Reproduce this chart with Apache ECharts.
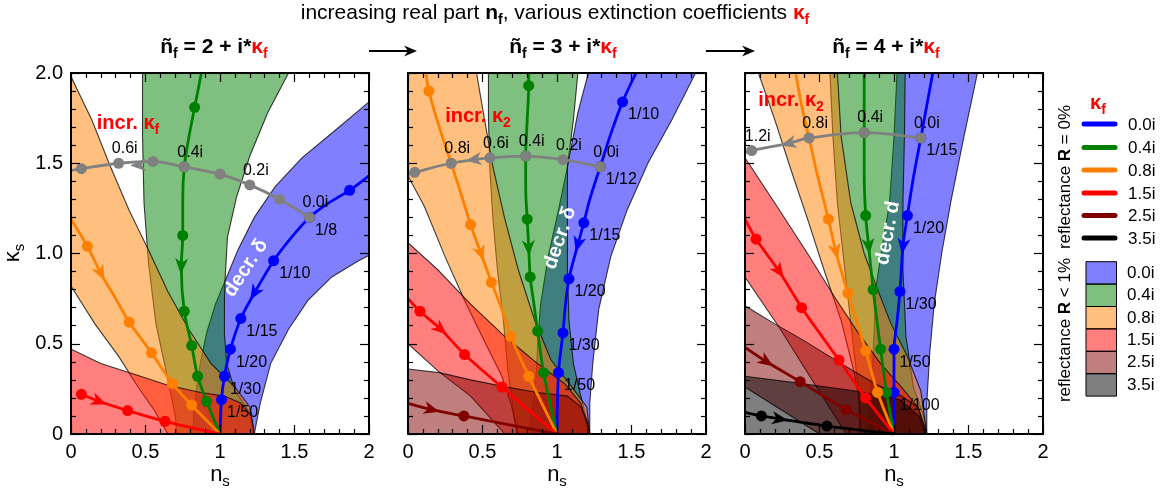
<!DOCTYPE html>
<html><head><meta charset="utf-8">
<script src="https://cdn.jsdelivr.net/npm/echarts/dist/echarts.min.js"></script>
<style>html,body{margin:0;padding:0;background:#fff}#c{width:1171px;height:496px}</style>
</head><body><div id="c"></div>
<script>
// ================= DATA =================
const nfValues = [2, 3, 4];
const kappaLabels = ['0.0i', '0.4i', '0.8i', '1.5i', '2.5i', '3.5i'];
const xTickLabels = ['0', '0.5', '1', '1.5', '2'];
const yTickLabels = ['0', '0.5', '1.0', '1.5', '2.0'];

// ---- panel n_f = 2 ----
const nf2_band_k0 = [[2.0,1.84],[1.77,1.68],[1.55,1.53],[1.37,1.37],[1.23,1.20],[1.12,1.02],[1.04,0.86],[0.97,0.72],[0.91,0.56],[0.87,0.40],[0.845,0.27],[0.825,0.12],[0.818,0],[1.23,0],[1.27,0.17],[1.34,0.39],[1.46,0.58],[1.59,0.74],[1.75,0.87],[1.93,0.96],[2.0,0.99]];
const nf2_band_k1 = [[0.48,2.0],[0.48,1.65],[0.49,1.28],[0.52,0.95],[0.57,0.61],[0.63,0.38],[0.67,0.22],[0.70,0.10],[0.71,0],[1.22,0],[1.20,0.12],[1.10,0.24],[1.045,0.39],[1.03,0.55],[1.03,0.75],[1.035,0.87],[1.05,1.09],[1.11,1.31],[1.20,1.54],[1.32,1.78],[1.46,2.0]];
const nf2_band_k2 = [[0,1.98],[0.14,1.74],[0.26,1.49],[0.39,1.24],[0.52,1.02],[0.65,0.79],[0.79,0.58],[0.94,0.39],[1.10,0.26],[1.20,0.15],[1.23,0],[0.65,0],[0.56,0.13],[0.45,0.26],[0.32,0.43],[0.16,0.61],[0,0.82]];
const nf2_band_k3 = [[0,0],[0,0.47],[0.20,0.39],[0.43,0.33],[0.65,0.27],[0.87,0.23],[1.03,0.21],[1.14,0.17],[1.21,0.10],[1.23,0]];
const nf2_line_k0 = [[2.0,1.43],[1.87,1.35],[1.73,1.28],[1.60,1.20],[1.47,1.08],[1.36,0.96],[1.23,0.78],[1.14,0.64],[1.07,0.47],[1.03,0.32],[1.01,0.19],[1.0,0]];
const nf2_line_k1 = [[0.875,2.0],[0.83,1.81],[0.79,1.64],[0.76,1.48],[0.75,1.30],[0.75,1.10],[0.74,0.93],[0.76,0.68],[0.81,0.49],[0.85,0.32],[0.91,0.18],[1.0,0]];
const nf2_line_k2 = [[0.0,1.19],[0.11,1.04],[0.20,0.89],[0.30,0.75],[0.39,0.62],[0.54,0.45],[0.68,0.28],[0.81,0.16],[1.0,0]];
const nf2_line_k3 = [[0.07,0.22],[0.19,0.18],[0.38,0.13],[0.63,0.07],[1.0,0]];
const nf2_marks_k0 = [[1.87,1.35],[1.60,1.20],[1.36,0.96],[1.14,0.64],[1.07,0.47],[1.03,0.32],[1.01,0.19]];
const nf2_marks_k1 = [[0.83,1.81],[0.76,1.48],[0.75,1.10],[0.76,0.68],[0.81,0.49],[0.85,0.32],[0.91,0.18]];
const nf2_marks_k2 = [[0.11,1.04],[0.39,0.62],[0.54,0.45],[0.68,0.28],[0.81,0.16]];
const nf2_marks_k3 = [[0.07,0.22],[0.38,0.13],[0.63,0.07]];
const nf2_deltaLabels = ['', '1/8', '1/10', '1/15', '1/20', '1/30', '1/50'];
const nf2_arrows = [[1.23,0.78],[0.74,0.93],[0.20,0.89],[0.19,0.18]];
const nf2_gray = [[1.60,1.20],[1.40,1.30],[1.20,1.38],[1.00,1.44],[0.76,1.48],[0.55,1.51],[0.32,1.50],[0.07,1.47],[0.0,1.46]];
const nf2_grayMarks = [[1.60,1.20],[1.40,1.30],[1.20,1.38],[1.00,1.44],[0.76,1.48],[0.55,1.51],[0.32,1.50],[0.07,1.47]];
const nf2_grayLabels = ['0.0i', '', '0.2i', '', '0.4i', '', '0.6i', ''];
const nf2_grayArrow = [0.45,1.49];

// ---- panel n_f = 3 ----
const nf3_band_k0 = [[1.21,2.0],[1.14,1.78],[1.07,1.48],[1.01,1.24],[0.94,0.98],[0.89,0.72],[0.87,0.50],[0.86,0.32],[0.84,0.18],[0.82,0.08],[0.818,0],[1.22,0],[1.22,0.17],[1.24,0.39],[1.28,0.69],[1.36,0.98],[1.47,1.24],[1.61,1.50],[1.77,1.74],[1.93,2.0]];
const nf3_band_k1 = [[0.54,2.0],[0.54,1.74],[0.55,1.46],[0.57,1.19],[0.60,0.91],[0.64,0.63],[0.67,0.35],[0.70,0.17],[0.73,0],[1.22,0],[1.16,0.21],[1.11,0.39],[1.08,0.63],[1.07,0.91],[1.07,1.19],[1.07,1.48],[1.11,1.74],[1.14,2.0]];
const nf3_band_k2 = [[0,2.0],[0.46,2.0],[0.51,1.76],[0.57,1.48],[0.65,1.19],[0.74,0.91],[0.85,0.63],[0.96,0.41],[1.10,0.26],[1.20,0.15],[1.22,0],[0.74,0],[0.69,0.17],[0.63,0.32],[0.51,0.52],[0.38,0.74],[0.25,0.98],[0.11,1.26],[0,1.43]];
const nf3_band_k3 = [[0,1.06],[0.20,0.91],[0.42,0.72],[0.65,0.54],[0.87,0.39],[1.05,0.28],[1.16,0.17],[1.22,0],[0.65,0],[0.42,0.21],[0.20,0.35],[0,0.50]];
const nf3_band_k4 = [[0,0],[0,0.36],[0.21,0.34],[0.42,0.30],[0.66,0.26],[0.87,0.23],[1.07,0.21],[1.16,0.15],[1.20,0.08],[1.22,0]];
const nf3_line_k0 = [[1.53,2.0],[1.44,1.84],[1.36,1.66],[1.29,1.48],[1.22,1.30],[1.18,1.17],[1.14,1.05],[1.08,0.86],[1.055,0.70],[1.04,0.56],[1.01,0.34],[1.0,0]];
const nf3_line_k1 = [[0.81,2.0],[0.81,1.93],[0.80,1.74],[0.79,1.54],[0.79,1.36],[0.80,1.19],[0.81,1.04],[0.82,0.87],[0.845,0.72],[0.87,0.57],[0.91,0.34],[1.0,0]];
const nf3_line_k2 = [[0.12,2.0],[0.14,1.90],[0.21,1.70],[0.29,1.50],[0.36,1.32],[0.42,1.16],[0.49,1.00],[0.56,0.84],[0.63,0.69],[0.69,0.54],[0.81,0.32],[1.0,0]];
const nf3_line_k3 = [[0.0,0.75],[0.08,0.68],[0.22,0.58],[0.38,0.44],[0.63,0.26],[1.0,0]];
const nf3_line_k4 = [[0.0,0.17],[0.16,0.135],[0.375,0.10],[1.0,0]];
const nf3_marks_k0 = [[1.44,1.84],[1.29,1.48],[1.18,1.17],[1.08,0.86],[1.04,0.56],[1.01,0.34]];
const nf3_marks_k1 = [[0.81,1.93],[0.79,1.54],[0.80,1.19],[0.82,0.87],[0.87,0.57],[0.91,0.34]];
const nf3_marks_k2 = [[0.14,1.90],[0.29,1.50],[0.42,1.16],[0.56,0.84],[0.69,0.54],[0.81,0.32]];
const nf3_marks_k3 = [[0.08,0.68],[0.38,0.44],[0.63,0.26]];
const nf3_marks_k4 = [[0.375,0.10]];
const nf3_deltaLabels = ['1/10', '1/12', '1/15', '1/20', '1/30', '1/50'];
const nf3_arrows = [[1.14,1.05],[0.81,1.03],[0.49,1.0],[0.22,0.58],[0.16,0.135]];
const nf3_gray = [[1.29,1.48],[1.04,1.52],[0.79,1.54],[0.55,1.53],[0.29,1.50],[0.045,1.45],[0.0,1.44]];
const nf3_grayMarks = [[1.29,1.48],[1.04,1.52],[0.79,1.54],[0.55,1.53],[0.29,1.50],[0.045,1.45]];
const nf3_grayLabels = ['0.0i', '0.2i', '0.4i', '0.6i', '0.8i', ''];
const nf3_grayArrow = [0.44,1.52];

// ---- panel n_f = 4 ----
const nf4_band_k0 = [[1.02,2.0],[1.00,1.65],[0.97,1.28],[0.91,0.98],[0.88,0.82],[0.87,0.63],[0.86,0.45],[0.85,0.30],[0.83,0.12],[0.818,0],[1.22,0],[1.22,0.17],[1.24,0.45],[1.27,0.72],[1.32,1.0],[1.38,1.28],[1.47,1.65],[1.56,2.0]];
const nf4_band_k1 = [[0.57,2.0],[0.59,1.65],[0.62,1.28],[0.67,0.91],[0.72,0.54],[0.76,0.26],[0.77,0],[1.22,0],[1.20,0.10],[1.13,0.26],[1.08,0.54],[1.06,0.91],[1.06,1.28],[1.07,1.65],[1.075,2.0]];
const nf4_band_k2 = [[0.09,2.0],[0.62,2.0],[0.645,1.65],[0.71,1.28],[0.80,1.0],[0.89,0.80],[0.98,0.61],[1.09,0.43],[1.18,0.24],[1.22,0],[0.78,0],[0.77,0.17],[0.73,0.35],[0.645,0.63],[0.53,0.91],[0.42,1.19],[0.31,1.46],[0.20,1.74]];
const nf4_band_k3 = [[0,1.53],[0.20,1.28],[0.42,1.0],[0.60,0.76],[0.76,0.56],[0.91,0.39],[1.05,0.26],[1.16,0.15],[1.22,0],[0.68,0],[0.45,0.30],[0.23,0.59],[0,0.87]];
const nf4_band_k4 = [[0,0.71],[0.20,0.61],[0.39,0.52],[0.645,0.39],[0.87,0.28],[1.05,0.21],[1.16,0.15],[1.22,0],[0.50,0],[0.25,0.13],[0,0.26]];
const nf4_band_k5 = [[0,0],[0,0.32],[0.28,0.29],[0.73,0.24],[1.04,0.19],[1.17,0.10],[1.21,0]];
const nf4_line_k0 = [[1.26,2.0],[1.22,1.82],[1.18,1.64],[1.13,1.42],[1.09,1.21],[1.06,1.04],[1.04,0.79],[1.02,0.62],[1.00,0.47],[1.00,0.23],[1.0,0]];
const nf4_line_k1 = [[0.80,2.0],[0.80,1.67],[0.80,1.44],[0.81,1.21],[0.83,1.04],[0.86,0.80],[0.885,0.63],[0.91,0.47],[0.95,0.23],[1.0,0]];
const nf4_line_k2 = [[0.34,2.0],[0.38,1.82],[0.43,1.64],[0.49,1.42],[0.56,1.19],[0.61,1.01],[0.69,0.78],[0.75,0.62],[0.81,0.46],[0.89,0.23],[1.0,0]];
const nf4_line_k3 = [[0.0,1.19],[0.074,1.08],[0.23,0.90],[0.38,0.70],[0.50,0.56],[0.63,0.41],[0.81,0.20],[1.0,0]];
const nf4_line_k4 = [[0.0,0.48],[0.145,0.40],[0.37,0.29],[0.68,0.135],[1.0,0]];
const nf4_line_k5 = [[0.0,0.12],[0.11,0.10],[0.235,0.083],[0.55,0.044],[1.0,0]];
const nf4_marks_k0 = [[1.18,1.64],[1.09,1.21],[1.04,0.79],[1.00,0.47],[1.00,0.23]];
const nf4_marks_k1 = [[0.80,1.67],[0.81,1.21],[0.86,0.80],[0.91,0.47],[0.95,0.23]];
const nf4_marks_k2 = [[0.43,1.64],[0.56,1.19],[0.69,0.78],[0.81,0.46],[0.89,0.23]];
const nf4_marks_k3 = [[0.074,1.08],[0.38,0.70],[0.63,0.41],[0.81,0.20]];
const nf4_marks_k4 = [[0.37,0.29],[0.68,0.135]];
const nf4_marks_k5 = [[0.11,0.10],[0.55,0.044]];
const nf4_deltaLabels = ['1/15', '1/20', '1/30', '1/50', '1/100'];
const nf4_arrows = [[1.06,1.04],[0.83,1.04],[0.61,1.01],[0.23,0.90],[0.145,0.40],[0.235,0.083]];
const nf4_gray = [[1.18,1.64],[0.80,1.67],[0.43,1.64],[0.29,1.61],[0.045,1.57],[0.0,1.56]];
const nf4_grayMarks = [[1.18,1.64],[0.80,1.67],[0.43,1.64],[0.045,1.57]];
const nf4_grayLabels = ['0.0i', '0.4i', '0.8i', '1.2i'];
const nf4_grayArrow = [0.29,1.61];

// ================= ASSEMBLY =================
const panels = [
  { bands:[nf2_band_k0,nf2_band_k1,nf2_band_k2,nf2_band_k3], lines:[nf2_line_k0,nf2_line_k1,nf2_line_k2,nf2_line_k3],
    marks:[nf2_marks_k0,nf2_marks_k1,nf2_marks_k2,nf2_marks_k3], arrows:nf2_arrows, deltaLabels:nf2_deltaLabels,
    gray:nf2_gray, grayMarks:nf2_grayMarks, grayLabels:nf2_grayLabels, grayArrow:nf2_grayArrow },
  { bands:[nf3_band_k0,nf3_band_k1,nf3_band_k2,nf3_band_k3,nf3_band_k4], lines:[nf3_line_k0,nf3_line_k1,nf3_line_k2,nf3_line_k3,nf3_line_k4],
    marks:[nf3_marks_k0,nf3_marks_k1,nf3_marks_k2,nf3_marks_k3,nf3_marks_k4], arrows:nf3_arrows, deltaLabels:nf3_deltaLabels,
    gray:nf3_gray, grayMarks:nf3_grayMarks, grayLabels:nf3_grayLabels, grayArrow:nf3_grayArrow },
  { bands:[nf4_band_k0,nf4_band_k1,nf4_band_k2,nf4_band_k3,nf4_band_k4,nf4_band_k5], lines:[nf4_line_k0,nf4_line_k1,nf4_line_k2,nf4_line_k3,nf4_line_k4,nf4_line_k5],
    marks:[nf4_marks_k0,nf4_marks_k1,nf4_marks_k2,nf4_marks_k3,nf4_marks_k4,nf4_marks_k5], arrows:nf4_arrows, deltaLabels:nf4_deltaLabels,
    gray:nf4_gray, grayMarks:nf4_grayMarks, grayLabels:nf4_grayLabels, grayArrow:nf4_grayArrow }
];

const FONT = "'Liberation Sans', Arial, Helvetica, sans-serif";
const lineColors = ['#0000ff', '#008000', '#ff8000', '#ff0000', '#800000', '#000000'];
const bandColors = ['rgba(0,0,255,0.5)', 'rgba(0,128,0,0.5)', 'rgba(255,128,0,0.5)', 'rgba(255,0,0,0.5)', 'rgba(128,0,0,0.5)', 'rgba(0,0,0,0.5)'];
const GRAY = '#808080';
const gridLeft = [71, 408, 745];

function segDist(c, a, b) {
  const dx = b[0]-a[0], dy = b[1]-a[1];
  const L = dx*dx + dy*dy || 1;
  let t = ((c[0]-a[0])*dx + (c[1]-a[1])*dy) / L;
  t = Math.max(0, Math.min(1, t));
  const px = a[0]+t*dx - c[0], py = a[1]+t*dy - c[1];
  return Math.sqrt(px*px + py*py);
}

const grids = [], xAxes = [], yAxes = [], series = [];

function axisCommon(showLabel, labels) {
  return {
    type: 'value', min: 0, max: 2, interval: 0.5, z: 10,
    axisLine: { show: true, onZero: false, lineStyle: { color: '#000', width: 2 } },
    axisTick: { show: true, inside: true, length: 9, lineStyle: { color: '#000', width: 1.2 } },
    minorTick: { show: true, splitNumber: 5, length: 5, lineStyle: { color: '#000', width: 1.2 } },
    splitLine: { show: false }, minorSplitLine: { show: false },
    axisLabel: { show: showLabel, margin: 8, fontSize: 20, color: '#000', fontFamily: FONT,
      formatter: v => labels[Math.round(v / 0.5)] }
  };
}

panels.forEach((P, p) => {
  grids.push({ left: gridLeft[p], top: 73, width: 298, height: 361 });
  xAxes.push(Object.assign(axisCommon(true, xTickLabels), { gridIndex: p, position: 'bottom' }));
  xAxes.push(Object.assign(axisCommon(false, xTickLabels), { gridIndex: p, position: 'top' }));
  yAxes.push(Object.assign(axisCommon(p === 0, yTickLabels), { gridIndex: p, position: 'left' }));
  yAxes.push(Object.assign(axisCommon(false, yTickLabels), { gridIndex: p, position: 'right' }));
  const ax = { xAxisIndex: 2 * p, yAxisIndex: 2 * p };

  // bands (R < 1 %)
  P.bands.forEach((band, k) => {
    series.push(Object.assign({
      type: 'custom', clip: true, silent: true, z: 1, data: [band[0]],
      renderItem: (params, api) => ({
        type: 'polygon',
        shape: { points: band.map(q => api.coord(q)) },
        style: { fill: bandColors[k], stroke: 'rgba(0,0,0,0.75)', lineWidth: 1.1 }
      })
    }, ax));
  });

  // R = 0 curves
  P.lines.forEach((line, k) => {
    series.push(Object.assign({
      type: 'line', data: line, showSymbol: false, smooth: 0.3, silent: true, z: 3,
      lineStyle: { color: lineColors[k], width: 2.8 }
    }, ax));
  });

  // arrows
  function arrowSeries(pt, line, color, z) {
    return Object.assign({
      type: 'custom', silent: true, z: z, data: [pt],
      renderItem: (params, api) => {
        const c = api.coord([api.value(0), api.value(1)]);
        let best = 0, bd = Infinity;
        for (let i = 0; i < line.length - 1; i++) {
          const d = segDist(c, api.coord(line[i]), api.coord(line[i + 1]));
          if (d < bd) { bd = d; best = i; }
        }
        const a = api.coord(line[best]), b = api.coord(line[best + 1]);
        const ang = Math.atan2(b[1] - a[1], b[0] - a[0]);
        const cs = Math.cos(ang), sn = Math.sin(ang);
        const shape = [[8, 0], [-8, -6.5], [-3.5, 0], [-8, 6.5]];
        return { type: 'polygon',
          shape: { points: shape.map(([u, v]) => [c[0] + u * cs - v * sn, c[1] + u * sn + v * cs]) },
          style: { fill: color } };
      }
    }, ax);
  }
  P.arrows.forEach((pt, k) => series.push(arrowSeries(pt, P.lines[k], lineColors[k], 4)));

  // markers
  P.marks.forEach((marks, k) => {
    series.push(Object.assign({
      type: 'scatter', silent: true, z: 5, symbolSize: 11,
      itemStyle: { color: lineColors[k], opacity: 1 },
      data: marks.map((m, i) => {
        const lab = k === 0 ? (P.deltaLabels[i] || '') : '';
        return { value: m, label: { show: !!lab, formatter: lab } };
      }),
      label: { position: 'right', distance: 0, offset: [0, 13], fontSize: 16, color: '#000', fontFamily: FONT }
    }, ax));
  });

  // gray (constant delta) line
  series.push(Object.assign({
    type: 'line', data: P.gray, showSymbol: false, smooth: 0.3, silent: true, z: 6,
    lineStyle: { color: GRAY, width: 2.8 }
  }, ax));
  series.push(arrowSeries(P.grayArrow, P.gray, GRAY, 6));
  series.push(Object.assign({
    type: 'scatter', silent: true, z: 7, symbolSize: 11,
    itemStyle: { color: GRAY, opacity: 1 },
    data: P.grayMarks.map((m, i) => ({ value: m, label: { show: !!P.grayLabels[i], formatter: P.grayLabels[i] } })),
    label: { position: 'top', distance: 0, offset: [6, -1], fontSize: 16, color: '#000', fontFamily: FONT }
  }, ax));
});

// ================= TEXT / LEGEND (graphic) =================
function rs(size, extra) {
  const o = Object.assign({ fontSize: size, fontFamily: FONT, color: '#000', lineHeight: 28, verticalAlign: 'middle' }, extra || {});
  o.fill = o.color;
  return o;
}
function sub(size, extra) {
  const o = Object.assign({ fontSize: size, fontFamily: FONT, color: '#000', lineHeight: 12, verticalAlign: 'bottom' }, extra || {});
  o.fill = o.color;
  return o;
}
function txt(x, y, text, rich, opts) {
  opts = opts || {};
  const al = opts.align || 'center';
  return { type: 'text', x: x, y: y, rotation: opts.rotation || 0, silent: true, z: 100,
    style: { text: text, rich: rich, x: 0, y: 0, fill: '#000', align: al, textAlign: al, verticalAlign: 'middle', textVerticalAlign: 'middle' } };
}
const RED = '#ff0000';
const graphics = [];
// main title
graphics.push(txt(555, 13, '{n|increasing real part }{b|n}{bs|f}{n|, various extinction coefficients }{r|κ}{rs|f}', {
  n: rs(21), b: rs(21, { fontWeight: 'bold' }), bs: sub(14, { fontWeight: 'bold' }),
  r: rs(21, { fontWeight: 'bold', color: RED }), rs: sub(14, { fontWeight: 'bold', color: RED })
}));
// panel titles
const subCenters = [214, 563, 886];
nfValues.forEach((nf, p) => {
  graphics.push(txt(subCenters[p], 47, '{b|ñ}{bs|f}{b| = ' + nf + ' + i*}{r|κ}{rs|f}', {
    b: rs(21, { fontWeight: 'bold' }), bs: sub(14, { fontWeight: 'bold' }),
    r: rs(21, { fontWeight: 'bold', color: RED }), rs: sub(14, { fontWeight: 'bold', color: RED })
  }));
  // x-axis names
  graphics.push(txt(gridLeft[p] + 149, 475, '{n|n}{s|s}', { n: rs(22), s: sub(15) }));
});
// arrows between panel titles
[[369, 417], [706, 755]].forEach(([a, b]) => {
  graphics.push({ type: 'line', silent: true, z: 100, shape: { x1: a, y1: 51, x2: b - 6, y2: 51 }, style: { stroke: '#000', lineWidth: 2 } });
  graphics.push({ type: 'polygon', silent: true, z: 100, shape: { points: [[b, 51], [b - 13, 45.5], [b - 9, 51], [b - 13, 56.5]] }, style: { fill: '#000' } });
});
// y axis name
graphics.push(txt(13, 253, '{n|κ}{s|s}', { n: rs(22), s: sub(15) }, { rotation: Math.PI / 2 }));
// incr. labels
const incrRich = { r: rs(20, { fontWeight: 'bold', color: RED }), rs: sub(14, { fontWeight: 'bold', color: RED }) };
graphics.push(txt(128, 123, '{r|incr. κ}{rs|f}', incrRich));
graphics.push(txt(478, 116, '{r|incr. κ}{rs|2}', incrRich));
graphics.push(txt(791, 100, '{r|incr. κ}{rs|2}', incrRich));
// decr. labels
const decrRich = { w: rs(20, { fontWeight: 'bold', color: '#ffffff' }) };
graphics.push(txt(246, 268, '{w|decr. δ}', decrRich, { rotation: 57 * Math.PI / 180 }));
graphics.push(txt(560, 238, '{w|decr. δ}', decrRich, { rotation: 71 * Math.PI / 180 }));
graphics.push(txt(888, 233, '{w|decr. d}', decrRich, { rotation: 80 * Math.PI / 180 }));

// legend
graphics.push(txt(1098, 103, '{r|κ}{rs|f}', incrRich));
const legLineY = [124, 147.5, 170, 193, 215.5, 238];
const legBoxY = [261.7, 284.1, 306.5, 328.9, 351.3, 373.7];
kappaLabels.forEach((lab, k) => {
  graphics.push({ type: 'line', silent: true, z: 100, shape: { x1: 1084, y1: legLineY[k], x2: 1115, y2: legLineY[k] },
    style: { stroke: lineColors[k], lineWidth: 5, lineCap: 'round' } });
  graphics.push(txt(1128, legLineY[k] + 1, '{n|' + lab + '}', { n: rs(17) }, { align: 'left' }));
  graphics.push({ type: 'rect', silent: true, z: 100, shape: { x: 1086, y: legBoxY[k], width: 30.5, height: 22.4 },
    style: { fill: bandColors[k], stroke: '#000', lineWidth: 1 } });
  graphics.push(txt(1127, legBoxY[k] + 11.5, '{n|' + lab + '}', { n: rs(17) }, { align: 'left' }));
});
const vRich = { n: rs(17), b: rs(17, { fontWeight: 'bold' }) };
graphics.push(txt(1065, 177, '{n|reflectance }{b|R}{n| = 0%}', vRich, { rotation: Math.PI / 2 }));
graphics.push(txt(1065, 330, '{n|reflectance }{b|R}{n| < 1%}', vRich, { rotation: Math.PI / 2 }));

const chart = echarts.init(document.getElementById('c'), null, { renderer: 'canvas' });
chart.setOption({
  animation: false,
  backgroundColor: '#ffffff',
  grid: grids, xAxis: xAxes, yAxis: yAxes, series: series, graphic: graphics
});
</script></body></html>
